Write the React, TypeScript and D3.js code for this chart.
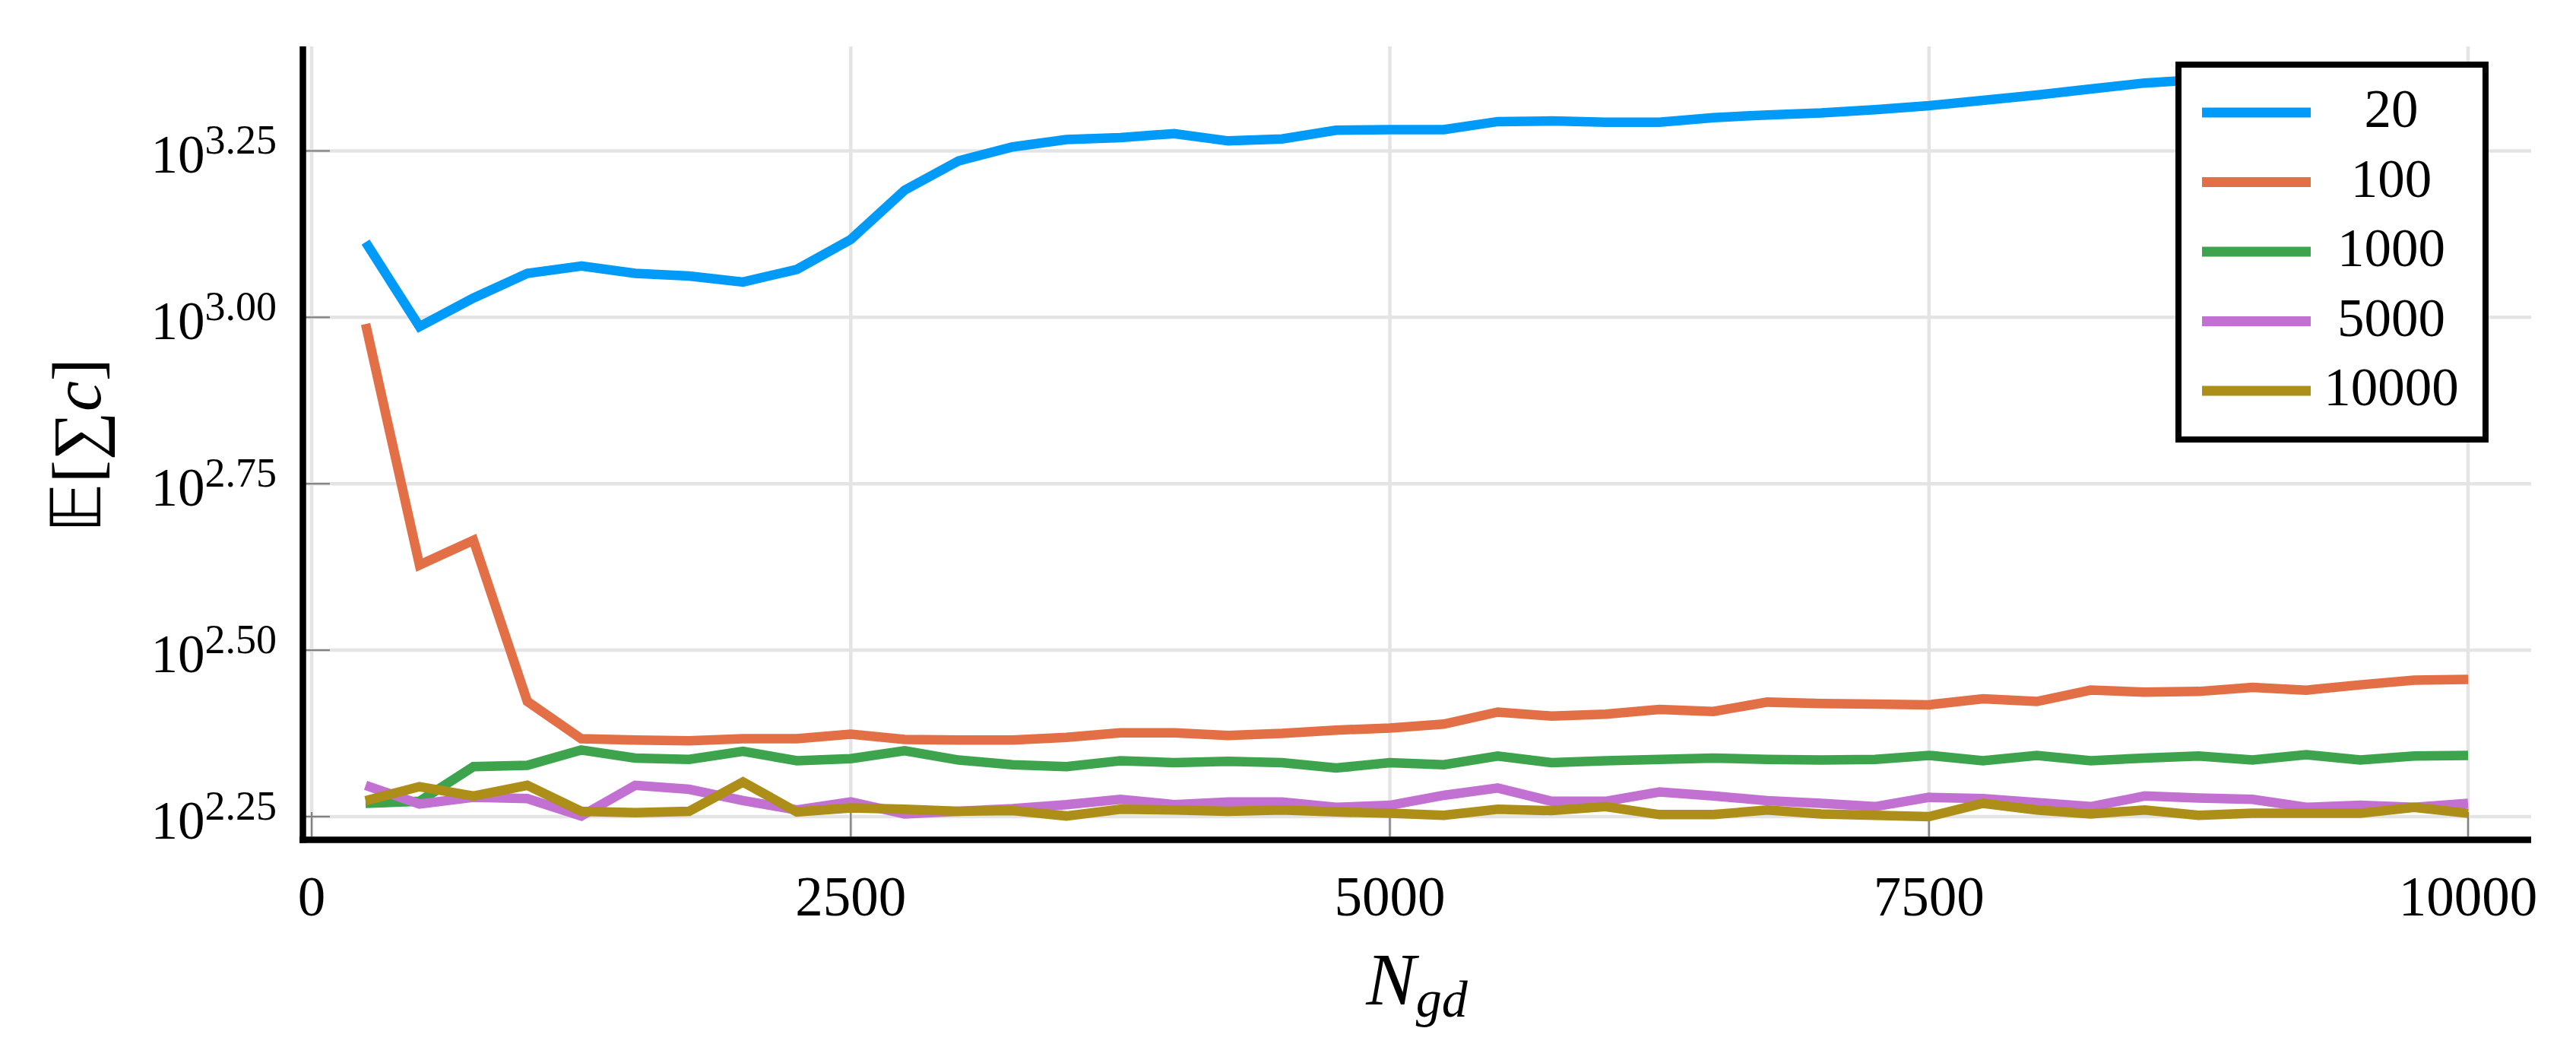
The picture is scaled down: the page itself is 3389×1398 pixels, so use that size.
import * as d3 from "d3";

// N_gd values on the x axis
const nGd = [
  250, 500, 750, 1000, 1250, 1500, 1750, 2000, 2250, 2500,
  2750, 3000, 3250, 3500, 3750, 4000, 4250, 4500, 4750, 5000,
  5250, 5500, 5750, 6000, 6250, 6500, 6750, 7000, 7250, 7500,
  7750, 8000, 8250, 8500, 8750, 9000, 9250, 9500, 9750, 10000,
];

// log10 of E[sum c], one list per series
const log20 = [
  3.113, 2.986, 3.029, 3.066, 3.077, 3.066, 3.062, 3.053, 3.072, 3.117,
  3.191, 3.235, 3.256, 3.267, 3.27, 3.276, 3.265, 3.268, 3.281, 3.282,
  3.282, 3.294, 3.295, 3.293, 3.293, 3.3, 3.304, 3.307, 3.312, 3.318,
  3.326, 3.334, 3.343, 3.352, 3.357, 3.361, 3.364, 3.367, 3.37, 3.372,
];
const log100 = [
  2.99, 2.628, 2.665, 2.423, 2.367, 2.365, 2.364, 2.367, 2.367, 2.374,
  2.366, 2.365, 2.365, 2.369, 2.376, 2.376, 2.372, 2.375, 2.38, 2.383,
  2.389, 2.407, 2.401, 2.404, 2.411, 2.408, 2.422, 2.42, 2.419, 2.418,
  2.427, 2.423, 2.44, 2.437, 2.438, 2.444, 2.44, 2.448, 2.455, 2.456,
];
const log1000 = [
  2.27, 2.273, 2.325, 2.327, 2.35, 2.338, 2.336, 2.348, 2.334, 2.337,
  2.349, 2.335, 2.328, 2.325, 2.334, 2.331, 2.333, 2.331, 2.323, 2.331,
  2.328, 2.341, 2.331, 2.334, 2.336, 2.338, 2.336, 2.335, 2.336, 2.342,
  2.334, 2.342, 2.334, 2.338, 2.341, 2.335, 2.343, 2.335, 2.341, 2.342,
];
const log5000 = [
  2.297, 2.269, 2.279, 2.277, 2.251, 2.297, 2.291, 2.274, 2.26, 2.272,
  2.254, 2.258, 2.262, 2.268, 2.276, 2.268, 2.272, 2.272, 2.264, 2.267,
  2.282, 2.293, 2.273, 2.273, 2.287, 2.281, 2.274, 2.27, 2.265, 2.279,
  2.277, 2.271, 2.265, 2.281, 2.278, 2.276, 2.264, 2.267, 2.264, 2.27,
];
const log10000 = [
  2.274, 2.295, 2.281, 2.297, 2.258, 2.256, 2.258, 2.302, 2.257, 2.263,
  2.261, 2.258, 2.259, 2.251, 2.261, 2.26, 2.258, 2.26, 2.257, 2.255,
  2.252, 2.261, 2.259, 2.265, 2.253, 2.253, 2.26, 2.254, 2.252, 2.25,
  2.27, 2.26, 2.254, 2.26, 2.252, 2.255, 2.255, 2.255, 2.264, 2.255,
];

const seriesLabels = ["20", "100", "1000", "5000", "10000"];
const seriesValues = [log20, log100, log1000, log5000, log10000];
const seriesColors = ["#009af9", "#e26f46", "#3da44d", "#c271d2", "#ac8e18"];

const xTicks = [0, 2500, 5000, 7500, 10000];
const yTickExps = ["2.25", "2.50", "2.75", "3.00", "3.25"];

const W = 3389;
const H = 1398;
const plot = { left: 398, right: 3330, top: 61, bottom: 1104 };
const font = "'Liberation Serif', 'DejaVu Serif', serif";

export default function App() {
  const x = d3.scaleLinear().domain([-42.5, 10292.5]).range([plot.left, plot.right]);
  const y = d3
    .scaleLog()
    .domain([10 ** 2.2157, 10 ** 3.407])
    .range([plot.bottom, plot.top]);

  const line = d3
    .line<number>()
    .x((_, i) => x(nGd[i]))
    .y((d) => y(10 ** d));

  // legend box
  const lg = { x0: 2866, x1: 3270, y0: 85, y1: 578, row0: 148, step: 91.5 };

  return (
    <svg
      width={W}
      height={H}
      style={{ position: "absolute", left: 0, top: 0, background: "#fff" }}
      fontFamily={font}
    >
      <rect width={W} height={H} fill="#fff" />

      {/* grid */}
      {xTicks.map((t) => (
        <line key={"gx" + t} x1={x(t)} x2={x(t)} y1={plot.top} y2={plot.bottom} stroke="#e4e4e4" strokeWidth={4.5} />
      ))}
      {yTickExps.map((e) => (
        <line key={"gy" + e} x1={plot.left} x2={plot.right} y1={y(10 ** +e)} y2={y(10 ** +e)} stroke="#e4e4e4" strokeWidth={4.5} />
      ))}

      {/* ticks */}
      {xTicks.map((t) => (
        <line key={"tx" + t} x1={x(t)} x2={x(t)} y1={plot.bottom - 4} y2={plot.bottom - 36} stroke="#808080" strokeWidth={2.2} />
      ))}
      {yTickExps.map((e) => (
        <line key={"ty" + e} x1={plot.left + 4} x2={plot.left + 36} y1={y(10 ** +e)} y2={y(10 ** +e)} stroke="#808080" strokeWidth={2.2} />
      ))}

      {/* series */}
      {seriesValues.map((vals, k) => (
        <path
          key={seriesLabels[k]}
          d={line(vals) ?? ""}
          fill="none"
          stroke={seriesColors[k]}
          strokeWidth={12.5}
          strokeLinejoin="miter"
        />
      ))}

      {/* axes */}
      <line x1={398.5} x2={398.5} y1={plot.top} y2={plot.bottom + 4.5} stroke="#000" strokeWidth={8.5} />
      <line x1={394} x2={plot.right} y1={plot.bottom + 0.5} y2={plot.bottom + 0.5} stroke="#000" strokeWidth={8.5} />

      {/* tick labels */}
      {xTicks.map((t) => (
        <text key={"lx" + t} x={x(t)} y={1204} fontSize={73} textAnchor="middle" fill="#000">
          {t}
        </text>
      ))}
      {yTickExps.map((e) => (
        <text key={"ly" + e} x={364} y={y(10 ** +e) + 29} fontSize={71} textAnchor="end" fill="#000">
          <tspan>10</tspan>
          <tspan dy={-25} fontSize={54}>
            {e}
          </tspan>
        </text>
      ))}

      {/* axis titles */}
      <text x={(plot.left + plot.right) / 2} y={1321} fontSize={98} textAnchor="middle" fontStyle="italic" fill="#000">
        <tspan>N</tspan>
        <tspan dy={16} fontSize={68}>
          gd
        </tspan>
      </text>
      <text transform="translate(132,586) rotate(-90)" fontSize={90} textAnchor="middle" fill="#000">
        <tspan fontFamily="'DejaVu Sans', 'DejaVu Serif', serif">𝔼</tspan>
        <tspan>[∑</tspan>
        <tspan fontStyle="italic">c</tspan>
        <tspan>]</tspan>
      </text>

      {/* legend */}
      <rect x={lg.x0} y={lg.y0} width={lg.x1 - lg.x0} height={lg.y1 - lg.y0} fill="#fff" stroke="#000" strokeWidth={8} />
      {seriesLabels.map((s, k) => (
        <g key={"lg" + s}>
          <line x1={2897} x2={3040} y1={lg.row0 + k * lg.step} y2={lg.row0 + k * lg.step} stroke={seriesColors[k]} strokeWidth={13} />
          <text x={3146} y={lg.row0 + k * lg.step + 19} fontSize={71} textAnchor="middle" fill="#000">
            {s}
          </text>
        </g>
      ))}
    </svg>
  );
}
